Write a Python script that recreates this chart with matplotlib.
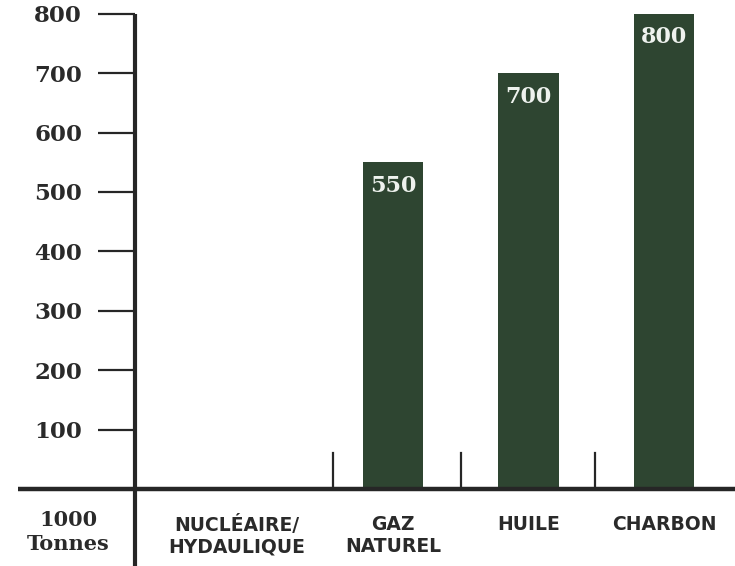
import matplotlib
matplotlib.use("Agg")
import matplotlib.pyplot as plt

categories = ["NUCLÉAIRE/\nHYDAULIQUE", "GAZ\nNATUREL", "HUILE", "CHARBON"]
values = [0, 550, 700, 800]
yticks = [100, 200, 300, 400, 500, 600, 700, 800]
unit_label = "1000\nTonnes"

W, H = 735, 566
fig = plt.figure(figsize=(W / 100, H / 100), dpi=100)
fig.patch.set_facecolor("white")

# axes placement in pixels
ax_left, ax_right, ax_bottom, ax_top = 135, 735, 489, 11
ax = fig.add_axes([ax_left / W, 1 - ax_bottom / H, (ax_right - ax_left) / W, (ax_bottom - ax_top) / H])
px_per_unit = 0.594
px_per_cat = 135.5
cat0_px = 257.5
ax.set_ylim(0, (ax_bottom - ax_top) / px_per_unit)
ax.set_xlim((ax_left - cat0_px) / px_per_cat, (ax_right - cat0_px) / px_per_cat)

bar_color = "#2e4531"
line_color = "#262626"
text_color = "#2a2a2a"
x = list(range(len(categories)))
bars = ax.bar(x, values, width=0.45, color=bar_color, zorder=2)

# value labels inside bars
for xi, v in zip(x, values):
    if v > 0:
        ax.annotate(str(v), (xi, v), xytext=(0, -17), textcoords="offset points",
                    ha="center", va="center", color="#eef2ee", fontsize=16,
                    fontweight="bold", family="DejaVu Serif")

for s in ax.spines.values():
    s.set_visible(False)

x0 = ax.get_xlim()[0]
bottom_val = -(H - ax_bottom) / px_per_unit
# y-axis line
ax.plot([x0, x0], [bottom_val, max(yticks)], color=line_color, lw=3.0, clip_on=False,
        solid_capstyle="butt", zorder=3)
# x-axis line
ax.plot([(18 - cat0_px) / px_per_cat, ax.get_xlim()[1]], [0, 0], color=line_color, lw=3.2,
        clip_on=False, solid_capstyle="butt", zorder=3)
# separators
for sx in [0.56, 1.5, 2.49]:
    ax.plot([sx, sx], [0, 60], color=line_color, lw=1.6, clip_on=False, zorder=3)

ax.set_yticks(yticks)
ax.set_yticklabels([str(t) for t in yticks], fontsize=16.5, fontweight="bold",
                   family="DejaVu Serif", color=text_color)
ax.tick_params(axis="y", direction="out", length=27, width=1.6, color=line_color, pad=11)

label_x = [xi for xi in x]
label_x[0] = x[0] - 0.15
ax.set_xticks(label_x)
ax.set_xticklabels(categories, fontsize=13.5, fontweight="bold", family="DejaVu Sans",
                   color=text_color, linespacing=1.15)
ax.tick_params(axis="x", length=0, pad=19)

fig.text(68 / W, 1 - 532 / H, unit_label, ha="center", va="center", fontsize=15,
         fontweight="bold", family="DejaVu Serif", color=text_color, linespacing=1.2)

fig.savefig("out.png", dpi=100)
